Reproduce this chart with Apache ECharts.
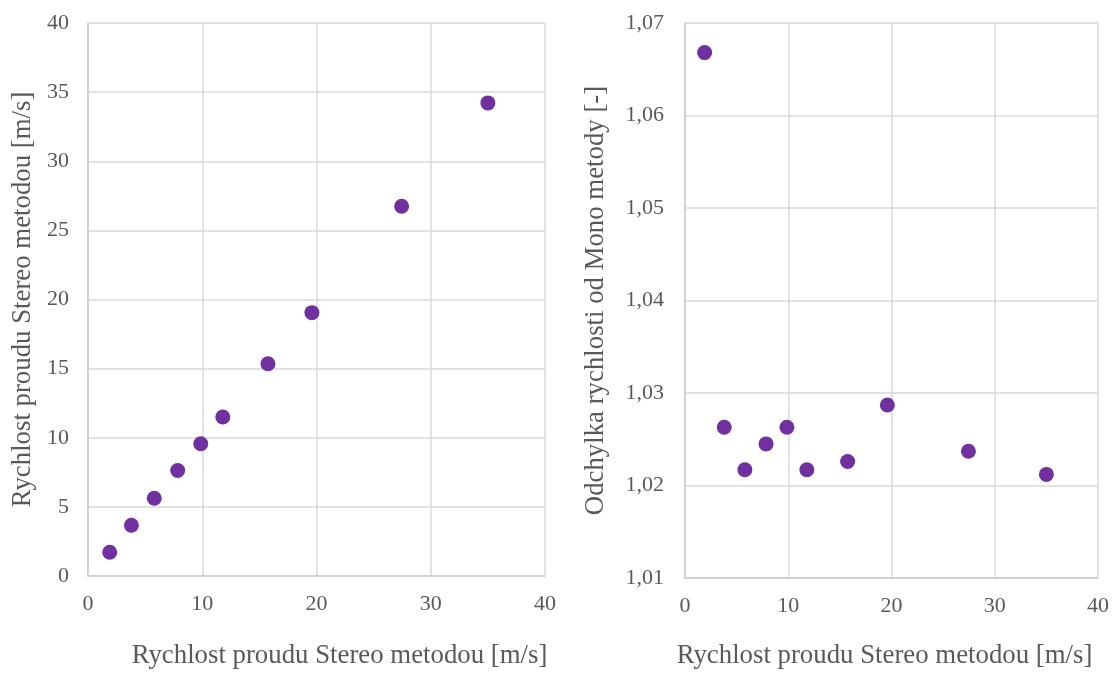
<!DOCTYPE html>
<html>
<head>
    <meta charset="utf-8">
    <title>Rychlost proudu</title>
    <script src="https://cdn.jsdelivr.net/npm/echarts@6/dist/echarts.min.js"></script>
</head>
<body style="margin:0">
<div id="chart" style="width: 1120px; height: 674px;"></div>
<script>
    // rychlost podle stereo metody (osa x obou grafů)
    var stereoSpeed = [1.9, 3.8, 5.8, 7.85, 9.87, 11.8, 15.75, 19.6, 27.45, 35.0];
    // levý graf: rychlost proudu [m/s]
    var leftValues = [1.72, 3.67, 5.62, 7.63, 9.57, 11.5, 15.35, 19.05, 26.75, 34.22];
    // pravý graf: odchylka od mono metody [-]
    var rightValues = [1.0668, 1.0263, 1.0217, 1.0245, 1.0263, 1.0217, 1.0226, 1.0287, 1.0237, 1.0212];

    var xName = 'Rychlost proudu Stereo metodou [m/s]';
    var leftYName = 'Rychlost proudu Stereo metodou [m/s]';
    var rightYName = 'Odchylka rychlosti od Mono metody [-]';

    var font = 'Liberation Serif, Times New Roman, serif';
    var textColor = '#595959';
    var gridColor = '#d9d9d9';
    var axisColor = '#cccccc';
    var dotColor = '#7030a0';

    function pairs(xs, ys) {
        return xs.map(function (x, i) { return [x, ys[i]]; });
    }

    function xAxis(gridIndex, gap, pad) {
        return {
            type: 'value', gridIndex: gridIndex, min: 0, max: 40, interval: 10,
            name: xName, nameLocation: 'middle', nameGap: gap,
            nameTextStyle: { fontFamily: font, fontSize: 26.8, color: textColor, padding: pad },
            axisLine: { show: true, lineStyle: { color: axisColor, width: 1.5 } },
            axisTick: { show: false },
            axisLabel: { fontFamily: font, fontSize: 22, color: textColor, margin: 17 },
            splitLine: { show: true, lineStyle: { color: gridColor, width: 1.5 } }
        };
    }

    var myChart = echarts.init(document.getElementById('chart'));

    var option = {
        backgroundColor: '#fff',
        animation: false,
        grid: [
            { left: 88, top: 23, width: 457, height: 556 },
            { left: 685, top: 23, width: 413, height: 559 }
        ],
        xAxis: [xAxis(0, 66, [0, 0, 0, 46]), xAxis(1, 64, [0, 14, 0, 0])],
        yAxis: [
            {
                type: 'value', gridIndex: 0, min: 0, max: 40, interval: 5,
                name: leftYName, nameLocation: 'middle', nameGap: 52,
                nameTextStyle: { fontFamily: font, fontSize: 26.8, color: textColor },
                axisLine: { show: true, lineStyle: { color: axisColor, width: 1.5 } },
                axisTick: { show: false },
                axisLabel: { fontFamily: font, fontSize: 22, color: textColor, margin: 19 },
                splitLine: { show: true, lineStyle: { color: gridColor, width: 1.5 } }
            },
            {
                type: 'value', gridIndex: 1, min: 1.01, max: 1.07, interval: 0.01,
                name: rightYName, nameLocation: 'middle', nameGap: 76,
                nameTextStyle: { fontFamily: font, fontSize: 26.8, color: textColor },
                axisLine: { show: true, lineStyle: { color: axisColor, width: 1.5 } },
                axisTick: { show: false },
                axisLabel: {
                    fontFamily: font, fontSize: 22, color: textColor, margin: 21,
                    formatter: function (v) { return v.toFixed(2).replace('.', ','); }
                },
                splitLine: { show: true, lineStyle: { color: gridColor, width: 1.5 } }
            }
        ],
        series: [
            {
                type: 'scatter', xAxisIndex: 0, yAxisIndex: 0,
                symbolSize: 15, itemStyle: { color: dotColor, opacity: 1 },
                data: pairs(stereoSpeed, leftValues)
            },
            {
                type: 'scatter', xAxisIndex: 1, yAxisIndex: 1,
                symbolSize: 15, itemStyle: { color: dotColor, opacity: 1 },
                data: pairs(stereoSpeed, rightValues)
            }
        ]
    };

    myChart.setOption(option);
</script>
</body>
</html>
